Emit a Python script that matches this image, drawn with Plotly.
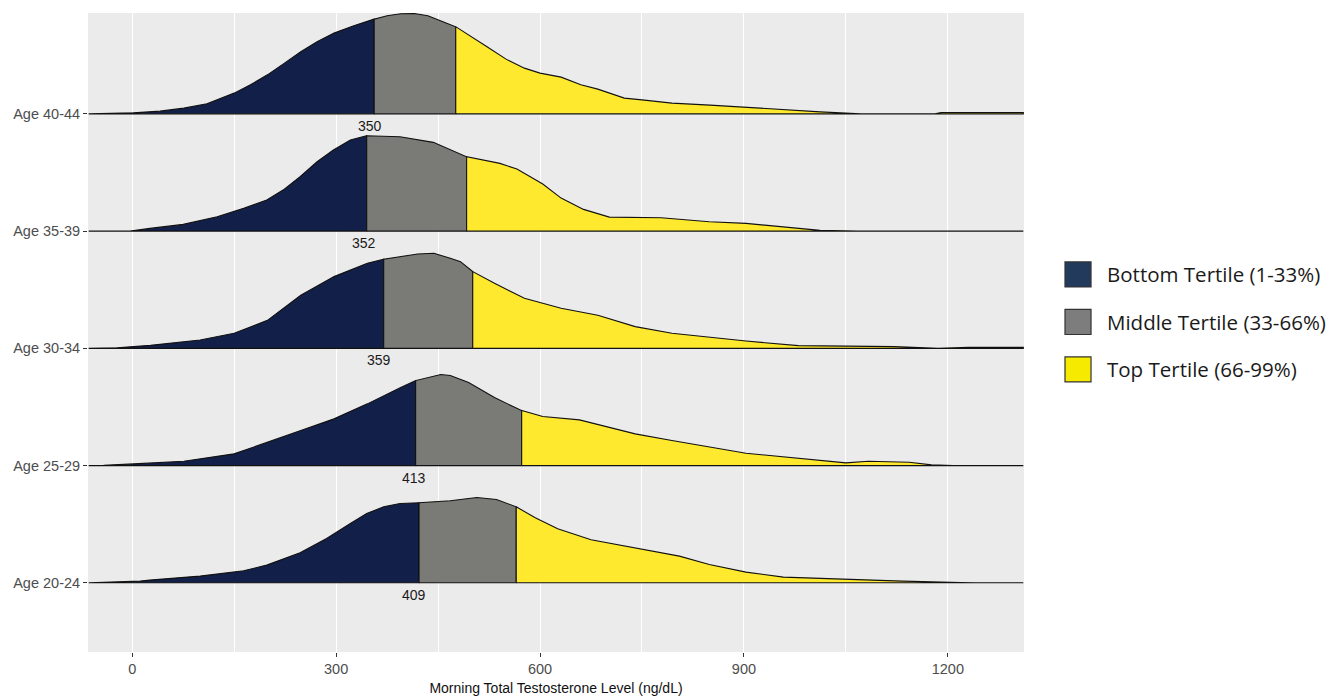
import numpy as np
import plotly.graph_objects as go

# ---------------- data ----------------
ages = ["Age 20-24", "Age 25-29", "Age 30-34", "Age 35-39", "Age 40-44"]
tertile_labels = ["409", "413", "359", "352", "350"]
label_x = [414, 414, 363, 341, 350]

# density curves (relative height, 100 = tallest peak) sampled along testosterone (ng/dL)
x_2024 = [-64, -47, 12, 26, 100, 164, 198, 247, 286, 321, 345, 370, 394, 422, 468, 507, 536, 565, 593, 626, 675, 740, 805, 849, 903, 958, 1050, 1133, 1219, 1240, 1311]
h_2024 = [0, 0.3, 1.7, 2.7, 6.7, 12, 17.7, 30, 44.3, 59.3, 69.3, 76, 79.3, 80, 82, 85.3, 83.3, 76, 65, 54, 43, 35, 26.7, 18.3, 10.7, 5.7, 3.3, 1.7, 0.3, 0, 0]

x_2529 = [-64, -42, 2, 76, 150, 199, 248, 297, 346, 395, 417, 454, 468, 495, 533, 573, 604, 658, 740, 794, 903, 1012, 1050, 1083, 1143, 1176, 1208, 1311]
h_2529 = [0, 0.3, 1.7, 4.3, 11.7, 23, 35, 46.7, 61.7, 78, 85, 91, 90, 83, 68, 55, 49, 45.7, 31.7, 25, 12.3, 5, 2.7, 4.3, 3.3, 0.7, 0, 0]

x_3034 = [-64, -22, 27, 100, 150, 199, 248, 297, 346, 370, 420, 444, 468, 483, 501, 533, 577, 631, 685, 740, 794, 903, 980, 1121, 1186, 1230, 1311]
h_3034 = [0, 0.5, 3, 8.3, 15, 28, 53, 71.7, 85, 89, 94.3, 95, 90, 86.7, 76.7, 65, 50, 40, 33, 21.7, 15, 7.3, 2.7, 1.7, 0, 1, 1]

x_3539 = [-64, -3, 26, 75, 125, 164, 198, 222, 247, 272, 296, 321, 345, 394, 443, 492, 541, 566, 604, 631, 664, 702, 778, 849, 903, 1012, 1067, 1311]
h_3539 = [0, 0, 2.7, 6.7, 14.3, 22.7, 31, 41, 54.3, 69.3, 81, 91, 95.3, 94.3, 88.7, 74.3, 67.7, 62, 47, 33, 21.7, 14, 13.3, 9.3, 7.7, 0.7, 0, 0]

x_4044 = [-64, 2, 41, 76, 110, 150, 174, 199, 224, 248, 272, 297, 326, 356, 375, 395, 415, 435, 460, 477, 522, 550, 577, 600, 631, 660, 685, 724, 750, 794, 850, 903, 960, 1012, 1072, 1181, 1190, 1311]
h_4044 = [0, 1, 2.7, 5.7, 10, 20.7, 29, 39, 50.7, 62, 72, 80.7, 88, 94.7, 98, 100, 100.3, 98, 91.3, 86.7, 67, 54.7, 45.7, 40.7, 36.7, 29, 24.7, 15.7, 14, 10.7, 8.7, 6.3, 4, 2, 0, 0, 1.3, 1.3]

# tertile cut points (ng/dL): 33rd and 66th percentile
cut_low = [422, 417, 370, 345, 356]
cut_high = [565, 573, 501, 492, 476]

curves_x = [x_2024, x_2529, x_3034, x_3539, x_4044]
curves_h = [h_2024, h_2529, h_3034, h_3539, h_4044]

tertile_names = ["Bottom Tertile (1-33%)", "Middle Tertile (33-66%)", "Top Tertile (66-99%)"]
fill_colors = ["#121F48", "#7A7A77", "#FFE92E"]
legend_colors = ["#223B5C", "#7D7D7D", "#F5EA00"]

HEIGHT_SCALE = 0.853 / 100.0  # ridge height relative to row spacing

fig = go.Figure()

# draw from top row (back) to bottom row (front)
for i in reversed(range(len(ages))):
    xs = np.array(curves_x[i], dtype=float)
    hs = np.array(curves_h[i], dtype=float)
    cuts = [xs[0], cut_low[i], cut_high[i], xs[-1]]
    for k in range(3):
        a, b = cuts[k], cuts[k + 1]
        inner = xs[(xs > a) & (xs < b)]
        seg_x = np.concatenate([[a], inner, [b]])
        seg_h = np.interp(seg_x, xs, hs)
        px = np.concatenate([[a], seg_x, [b, a]])
        py = np.concatenate([[0], seg_h, [0, 0]]) * HEIGHT_SCALE + i
        fig.add_trace(go.Scatter(
            x=px, y=py, mode="lines", fill="toself",
            fillcolor=fill_colors[k],
            line=dict(color="#111111", width=1.1),
            hoverinfo="skip", showlegend=False,
        ))
    fig.add_annotation(
        x=label_x[i], y=i, text=tertile_labels[i], showarrow=False,
        yanchor="top", yshift=-2,
        font=dict(family="Liberation Sans, Arial", size=14, color="#1A1A1A"),
    )

# custom legend (large swatches)
legend_top = 0.5908
legend_step = 0.0743
for k in range(3):
    yc = legend_top - k * legend_step
    fig.add_shape(
        type="rect", xref="paper", yref="paper",
        x0=1.0438, x1=1.0716, y0=yc - 0.0196, y1=yc + 0.0196,
        fillcolor=legend_colors[k], line=dict(color="#333333", width=1.2),
    )
    fig.add_annotation(
        xref="paper", yref="paper", x=1.0865, y=yc, text=tertile_names[k],
        showarrow=False, xanchor="left", yanchor="middle",
        font=dict(family="Open Sans", size=20.5, color="#1A1A1A"),
    )

fig.update_layout(
    width=1338, height=698,
    margin=dict(l=88, r=314, t=13, b=46),
    paper_bgcolor="white", plot_bgcolor="#EBEBEB",
    showlegend=False,
    font=dict(family="Liberation Sans, Arial", size=14, color="#4D4D4D"),
)
fig.update_xaxes(
    automargin=False,
    range=[-65, 1312], tick0=0, dtick=300,
    showgrid=True, gridcolor="white", gridwidth=1.1,
    minor=dict(dtick=150, showgrid=True, gridcolor="white", gridwidth=0.5),
    ticks="outside", ticklen=4, tickcolor="#333333", tickwidth=1,
    tickfont=dict(size=14.5, color="#4D4D4D"),
    zeroline=False, showline=False,
    title=dict(text="Morning Total Testosterone Level (ng/dL)",
               font=dict(size=14, color="#111111"), standoff=6),
)
fig.update_yaxes(
    automargin=False,
    range=[-0.59, 4.86],
    tickvals=list(range(len(ages))), ticktext=ages,
    showgrid=False, zeroline=False, showline=False,
    ticks="outside", ticklen=4, tickcolor="#333333", tickwidth=1,
    tickfont=dict(size=14.5, color="#4D4D4D"),
)

fig.write_html("out.html", config={"displayModeBar": False},
               post_script="document.body.style.margin='0px';")
